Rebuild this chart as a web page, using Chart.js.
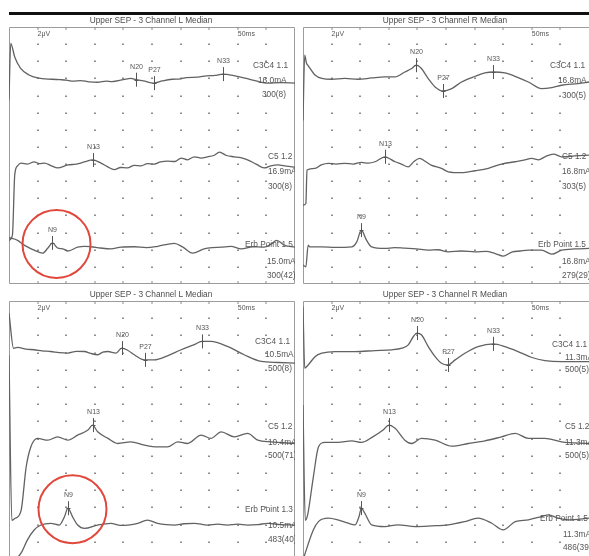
<!DOCTYPE html>
<html><head><meta charset="utf-8">
<script src="https://cdn.jsdelivr.net/npm/chart.js@4.4.1/dist/chart.umd.min.js"></script>
<style>
html,body{margin:0;padding:0;width:589px;height:556px;overflow:hidden;background:#fff;font-family:"Liberation Sans",Arial,sans-serif;}
.bar{position:absolute;left:9px;top:12px;width:580px;height:3px;background:#111;}
.title{position:absolute;font-size:8.3px;line-height:9px;color:#4a4a4a;text-align:center;width:286px;white-space:nowrap;opacity:0.99;will-change:transform;}
canvas{position:absolute;}
</style></head><body>
<div class="bar"></div>
<div class="title" style="left:8px;top:16px">Upper SEP - 3 Channel L Median</div>
<div class="title" style="left:302px;top:16px">Upper SEP - 3 Channel R Median</div>
<div class="title" style="left:8px;top:290px">Upper SEP - 3 Channel L Median</div>
<div class="title" style="left:302px;top:290px">Upper SEP - 3 Channel R Median</div>
<canvas id="tl" style="left:9px;top:27px;width:286px;height:257px" width="286" height="257"></canvas>
<canvas id="tr" style="left:303px;top:27px;width:286px;height:257px" width="286" height="257"></canvas>
<canvas id="bl" style="left:9px;top:301px;width:286px;height:258px" width="286" height="258"></canvas>
<canvas id="br" style="left:303px;top:301px;width:286px;height:258px" width="286" height="258"></canvas>
<script>
// ---- grid ticks (ms, μV) ----
const X_TICKS = [5,10,15,20,25,30,35,40,45];
const Y_TICKS = [2,4,6,8,10,12,14,16,18,20,22,24,26,28];

// ---- traces: [latency ms, amplitude μV relative to channel baseline] ----
const TL_C3C4 = [[0,-2.3],[0.3,4.3],[1,2.7],[2,1.4],[3.5,0.6],[5,0.25],[7.5,0.1],[9,0.05],[10,0],[11.2,-0.12],[12.5,-0.05],[14,-0.2],[15.5,-0.25],[17,-0.12],[18,-0.18],[20,0.05],[21.3,0.2],[22.2,0.05],[23.5,-0.1],[25.3,-0.35],[26.8,-0.1],[28.5,0.1],[30,0.15],[31,0.3],[33,0.35],[34.5,0.5],[36,0.55],[37.4,0.7],[39.5,0.5],[41.5,0.2],[43.2,-0.1],[45.3,-0.35],[47.5,-0.3],[50,-0.35]];
const TL_C5 = [[0,-8.8],[0.6,-8.2],[1.0,-1.2],[1.5,-0.1],[2.1,0.2],[3.2,0.1],[4.4,0.35],[5.3,0.15],[6.2,0.2],[7.4,-0.1],[8.5,-0.35],[10.3,0],[11.8,0.1],[13.2,0.35],[14.6,0.58],[16.1,0.2],[17.2,-0.2],[18.4,-0.55],[19.5,-0.3],[20.7,-0.35],[21.9,-0.05],[23.1,-0.1],[24.2,0.15],[25.4,0.1],[26.5,0.35],[27.7,0.45],[29,0.4],[30.1,0.8],[31.2,0.6],[32.4,0.95],[33.6,0.8],[34.7,0.95],[35.8,1.1],[36.8,1.5],[38,1.1],[39.4,0.95],[40.5,0.85],[41.7,0.6],[43.2,0.1],[44.6,-0.35],[45.8,-0.1],[47,0],[48.5,-0.15],[50,-0.25]];
const TL_ERB = [[0,1.1],[1.5,0.8],[2.4,0.35],[3.3,0],[4.4,-0.35],[5.9,-0.7],[6.8,-0.1],[7.6,0.5],[8.5,-0.1],[9.4,-0.2],[10.3,-0.45],[12,0],[13.2,0.1],[14.3,0.05],[16,-0.1],[17.8,-0.2],[19.6,0],[21.9,0.05],[24,-0.05],[26,0.1],[28.9,0.45],[30.4,0],[32.1,-0.7],[34.1,-0.2],[35.5,-0.05],[37.1,0],[38.8,0.1],[40.6,-0.2],[42.6,0.05],[44.6,0],[45.8,0.35],[46.8,0.8],[48.1,0.25],[50,0]];

const TR_C3C4 = [[0,-4.8],[0.3,2.8],[0.6,1.9],[0.9,1.6],[2.1,0.5],[3.3,0.1],[5,0],[7.3,0.1],[9.6,0],[12,0.15],[14.3,0.27],[16.1,0.27],[17.8,0.85],[19,1.25],[19.8,1.64],[20.7,1.25],[21.9,0.08],[23.1,-0.9],[24.5,-1.37],[26,-1.09],[27.7,-0.32],[30.1,0.35],[31.8,0.74],[33.3,0.85],[35.3,0.74],[37.6,0.2],[39.4,-0.32],[41.7,-1.09],[43.5,-0.97],[45.2,-0.7],[48.1,-0.5],[50,-0.32]];
const TR_C5 = [[0,-4.8],[0.5,-4.6],[0.7,-0.7],[2.1,-0.5],[3.2,-0.1],[4.4,0.08],[5.8,0.0],[7.3,0.08],[8.8,0.0],[10.2,0.2],[11.4,0.1],[12.6,0.27],[14.3,0.85],[16.1,0.27],[17.2,0.0],[18.4,-0.32],[19.4,0.3],[20.4,0.67],[21.4,0.3],[22.4,-0.12],[24.2,-0.5],[25.4,-0.9],[27.7,-1.0],[30.1,-0.78],[32.4,-0.5],[34.7,0],[37.1,0.27],[38.6,0.45],[40,0.67],[41.2,0.5],[42.3,0.85],[43.8,1.17],[45.2,0.85],[47.5,0.95],[50,1.05]];
const TR_ERB = [[0,-2.1],[0.5,-2.3],[0.9,0.23],[1.2,0.03],[3.3,0.03],[5.6,-0.03],[8.5,0.03],[9.4,0.62],[10.2,1.99],[11.1,0.82],[12,0.03],[14.3,-0.15],[16,-0.05],[17.8,-0.12],[19.8,-0.2],[21.9,-0.35],[23.6,-0.3],[25.4,-0.55],[27.7,-0.45],[30.1,-0.55],[32,-0.5],[33.6,-0.74],[35,-1.05],[36.5,-0.58],[38,-0.45],[39.4,-0.35],[41.7,-0.35],[43.5,-0.82],[45.2,-0.35],[47.5,-0.2],[50,-0.15]];

const BL_C3C4 = [[0,4.5],[0.8,0.4],[1.5,0.5],[3,0.3],[4.4,0.23],[5.8,0.1],[7.3,0.03],[8.8,-0.1],[10.3,-0.15],[11.8,0.05],[13.2,0.03],[14.3,-0.2],[15.5,-0.35],[16.4,-0.05],[17.3,0.03],[18.7,-0.15],[19.7,0.43],[20.8,0.15],[21.9,-0.35],[23.7,-0.94],[25.4,-0.94],[27.7,-0.47],[30.1,0.23],[32.4,0.82],[33.7,1.2],[35.3,1.2],[38.2,0.62],[41.1,-0.35],[44.1,-1.13],[47,-1.25],[50,-1.32]];
const BL_C5 = [[0,10],[0.5,-9.2],[1.0,-9.0],[2.1,-8.1],[3.0,-3.0],[3.8,-0.7],[5.0,0.32],[6.8,0.12],[8.5,0.5],[10.3,0.12],[12,0.7],[13.8,1.29],[14.6,1.87],[15.5,1.09],[17.3,0.32],[19,-0.27],[21.3,-0.08],[23.7,-0.47],[26,-0.67],[27.7,-0.67],[29.5,-0.08],[31.2,-0.27],[33.6,0.7],[35.3,0.32],[37.1,1.09],[39.4,0.5],[41.7,0.9],[43.5,0.12],[45.8,-0.08],[50,-0.27]];
const BL_ERB = [[0,-4.7],[2.1,-3.27],[3.2,-1.75],[4.4,-0.58],[5.6,0],[7.3,0.2],[8.8,0],[9.7,0.97],[10.3,1.95],[11.1,0.97],[12,0],[13.2,-0.39],[15.5,0],[17.8,0.2],[19.5,-0.05],[20.8,0],[22.5,0.2],[24.2,0.58],[26,0.2],[27.5,0.05],[28.9,0],[30.6,0.15],[32.4,0.2],[34.7,0],[36.5,0.1],[38.2,0],[40,0.1],[41.7,0],[43.5,0.05],[45.2,0.2],[47.5,0.05],[50,0]];

const BR_C3C4 = [[0,5.15],[0.3,-2.0],[0.9,-1.64],[2.1,-0.67],[3.3,-0.27],[5.6,-0.08],[9.1,-0.08],[12.6,0.04],[15.5,0.12],[17.3,0.32],[18.4,0.7],[19.3,1.67],[19.9,2.07],[20.7,1.87],[21.9,0.5],[23.1,-0.67],[24.2,-1.44],[25.3,-1.64],[26.6,-1.05],[28.3,-0.27],[30.6,0.5],[33.3,0.82],[35.3,0.5],[37.6,-0.08],[39.9,-0.74],[42.3,-1.13],[45.2,-1.25],[50,-1.25]];
const BR_C5 = [[0,4.2],[0.4,-9.2],[0.8,-8.6],[1.8,-4.2],[2.7,-0.67],[3.8,-0.15],[6.1,-0.15],[8.5,0.04],[10.2,-0.15],[12.2,0.5],[14,1.29],[15,1.87],[16.1,1.49],[17.8,0.12],[19,-0.27],[20.7,0.32],[23.1,0.12],[26,-0.58],[28.9,-0.27],[31.8,0.04],[34.7,0.5],[37.1,0.9],[39.4,0.32],[42.3,0.32],[45.2,-0.08],[50,-0.27]];
const BR_ERB = [[0,-4.3],[1.8,-0.82],[2.7,0.15],[4.4,0.55],[6.1,0.35],[7.9,-0.04],[9.1,-0.23],[9.8,0.74],[10.2,1.72],[10.8,1.13],[12,-0.23],[14.3,-0.43],[16.6,-0.23],[19.6,-0.43],[22.5,-0.35],[25.4,-0.23],[28.3,0.15],[30.6,0.55],[33,-0.04],[35,-0.82],[37.1,0.15],[39.4,0.35],[41.7,0.74],[42.9,0.94],[44.6,0.55],[46.4,0.35],[50,0.55]];

// ---- channel baselines (μV on the 0..30 display scale) ----
const TL_OFFSETS = [23.8, 13.9, 4.3];
const TR_OFFSETS = [23.9, 14.0, 4.3];
const BL_OFFSETS = [24.1, 13.7, 3.95];
const BR_OFFSETS = [24.2, 13.7, 4.2];

// ---- marked peaks: [name, channel index, latency ms] ----
const TL_PEAKS = [['N20',0,22.2],['P27',0,25.3],['N33',0,37.4],['N13',1,14.6],['N9',2,7.6]];
const TR_PEAKS = [['N20',0,19.8],['P27',0,24.5],['N33',0,33.3],['N13',1,14.3],['N9',2,10.2]];
const BL_PEAKS = [['N20',0,19.7],['P27',0,23.7],['N33',0,33.7],['N13',1,14.6],['N9',2,10.3]];
const BR_PEAKS = [['N20',0,19.9],['P27',0,25.3],['N33',0,33.3],['N13',1,15.0],['N9',2,10.2]];

// ---- channel annotation texts ----
const TL_LABELS = [["C3C4 1.1","16.0mA","300(8)"],["C5 1.2","16.9mA","300(8)"],["Erb Point 1.5","15.0mA","300(42)"]];
const TR_LABELS = [["C3C4 1.1","16.8mA","300(5)"],["C5 1.2","16.8mA","303(5)"],["Erb Point 1.5","16.8mA","279(29)"]];
const BL_LABELS = [["C3C4 1.1","10.5mA","500(8)"],["C5 1.2","10.4mA","500(71)"],["Erb Point 1.3","10.5mA","483(40)"]];
const BR_LABELS = [["C3C4 1.1","11.3mA","500(5)"],["C5 1.2","11.3mA","500(5)"],["Erb Point 1.5","11.3mA","486(39)"]];

const SCALE_TEXT = ['2μV','50ms'];

// ---- layout (pixel styling only) ----
const LAYOUT = {
  tl:{right:true, circle:true, lx:[[-42,-37,-33],[-27,-27,-27],[-50,-28,-28]], ldy:[[-14,1,15],[-8,7,22],[-2,15,29]]},
  tr:{right:false,circle:false,lx:[[-39,-31,-27],[-27,-27,-27],[-51,-27,-27]], ldy:[[-14,1,16],[-7,8,23],[-2,15,29]]},
  bl:{right:true, circle:true, lx:[[-40,-30,-27],[-27,-27,-27],[-50,-27,-27]], ldy:[[-10,3,17],[-14,2,15],[-15,1,15]]},
  br:{right:false,circle:false,lx:[[-37,-24,-24],[-24,-24,-24],[-49,-26,-26]], ldy:[[-6,7,19],[-14,2,15],[-4,12,25]]}
};

function interp(tr, t){
  for(let i=1;i<tr.length;i++){
    if(tr[i][0]>=t){const a=tr[i-1],b=tr[i];const f=(t-a[0])/(b[0]-a[0]||1);return a[1]+f*(b[1]-a[1]);}
  }
  return tr[tr.length-1][1];
}

const FONT='7px "Liberation Sans", Arial, sans-serif';
const LFONT='8.3px "Liberation Sans", Arial, sans-serif';

const sepPlugin = {
  id:'sep',
  beforeDatasetsDraw(chart, args, o){
    const {ctx, chartArea:a, scales:{x,y}} = chart;
    ctx.save();
    ctx.strokeStyle='#9c9c9c'; ctx.lineWidth=1;
    ctx.beginPath();
    if(o.layout.right){
      ctx.rect(a.left+0.5,a.top+0.5,a.right-a.left-1,a.bottom-a.top-1);
    } else {
      ctx.moveTo(a.right,a.top+0.5); ctx.lineTo(a.left+0.5,a.top+0.5);
      ctx.lineTo(a.left+0.5,a.bottom-0.5); ctx.lineTo(a.right,a.bottom-0.5);
    }
    ctx.stroke();
    ctx.fillStyle='#8c8c8c';
    for(const t of X_TICKS){
      const px=Math.round(x.getPixelForValue(t));
      for(const v of Y_TICKS){
        const py=Math.round(y.getPixelForValue(v));
        ctx.fillRect(px-1,py-0.5,2,1.5);
      }
      ctx.fillRect(px-0.5,a.top,1,3);
      ctx.fillRect(px-0.5,a.bottom-3,1,3);
    }
    ctx.fillStyle='#555'; ctx.font=FONT; ctx.textBaseline='middle'; ctx.textAlign='left';
    ctx.fillText(SCALE_TEXT[0], x.getPixelForValue(X_TICKS[0]), a.top+7);
    ctx.fillText(SCALE_TEXT[1], x.getPixelForValue(X_TICKS[7]), a.top+7);
    ctx.restore();
  },
  afterDatasetsDraw(chart, args, o){
    const {ctx, chartArea:a, scales:{x,y}} = chart;
    ctx.save();
    ctx.beginPath(); ctx.rect(a.left,a.top,a.right-a.left,a.bottom-a.top); ctx.clip();
    ctx.font=FONT; ctx.textBaseline='middle';
    // peaks
    for(const [name,ch,t] of o.peaks){
      const v=o.offsets[ch]+interp(o.traces[ch],t);
      const px=Math.round(x.getPixelForValue(t))+0.5, py=y.getPixelForValue(v);
      ctx.strokeStyle='#555'; ctx.lineWidth=1;
      ctx.beginPath(); ctx.moveTo(px,py-7); ctx.lineTo(px,py+7);
      ctx.moveTo(px-2,Math.round(py)+0.5); ctx.lineTo(px+2,Math.round(py)+0.5); ctx.stroke();
      ctx.fillStyle='#555'; ctx.textAlign='center';
      ctx.fillText(name,px,py-13);
      if(o.layout.circle && name==='N9'){
        ctx.strokeStyle='#e0483c'; ctx.lineWidth=2;
        ctx.beginPath(); ctx.arc(px+4,py+1,34,0,Math.PI*2); ctx.stroke();
      }
    }
    // channel texts
    ctx.font=LFONT; ctx.fillStyle='#555'; ctx.textAlign='left';
    o.labels.forEach((rows,ch)=>{
      const by=y.getPixelForValue(o.offsets[ch]);
      rows.forEach((txt,r)=>{
        ctx.fillText(txt, a.right+o.layout.lx[ch][r], by+o.layout.ldy[ch][r]);
      });
    });
    ctx.restore();
  }
};

const PANELS = [
  {id:'tl', traces:[TL_C3C4,TL_C5,TL_ERB], offsets:TL_OFFSETS, peaks:TL_PEAKS, labels:TL_LABELS},
  {id:'tr', traces:[TR_C3C4,TR_C5,TR_ERB], offsets:TR_OFFSETS, peaks:TR_PEAKS, labels:TR_LABELS},
  {id:'bl', traces:[BL_C3C4,BL_C5,BL_ERB], offsets:BL_OFFSETS, peaks:BL_PEAKS, labels:BL_LABELS},
  {id:'br', traces:[BR_C3C4,BR_C5,BR_ERB], offsets:BR_OFFSETS, peaks:BR_PEAKS, labels:BR_LABELS}
];

for(const p of PANELS){
  new Chart(document.getElementById(p.id), {
    type:'line',
    data:{datasets:p.traces.map((tr,i)=>({
      data:tr.map(([t,v])=>({x:t,y:p.offsets[i]+v})),
      borderColor:'#626262', borderWidth:1.3, pointRadius:0, fill:false,
      cubicInterpolationMode:'monotone'
    }))},
    options:{
      responsive:false, animation:false, devicePixelRatio:1,
      layout:{padding:0},
      scales:{
        x:{type:'linear',min:0,max:50,display:false},
        y:{type:'linear',min:0,max:30,display:false}
      },
      plugins:{legend:{display:false},tooltip:{enabled:false},
        sep:{traces:p.traces, offsets:p.offsets, peaks:p.peaks, labels:p.labels, layout:LAYOUT[p.id]}}
    },
    plugins:[sepPlugin]
  });
}
</script>
</body></html>
